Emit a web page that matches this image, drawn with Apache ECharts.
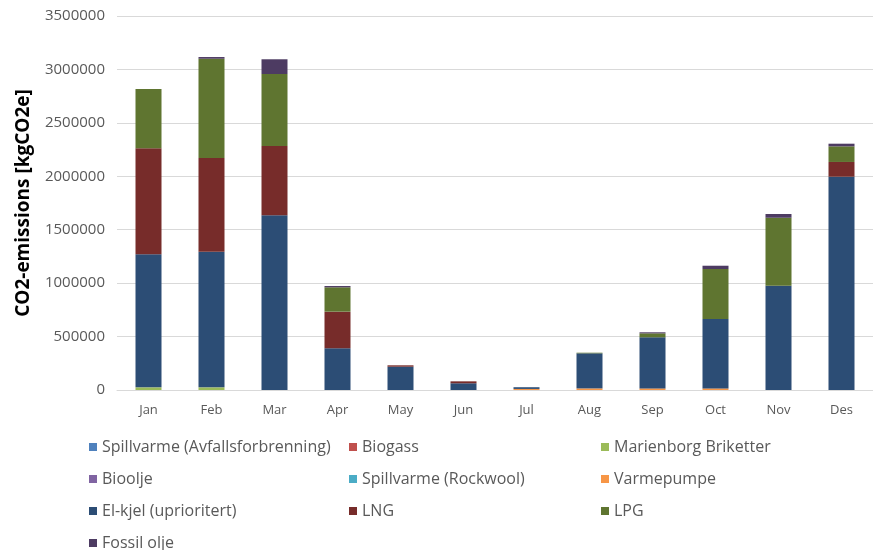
<!DOCTYPE html>
<html>
<head>
<meta charset="utf-8">
<script src="https://cdn.jsdelivr.net/npm/echarts@6/dist/echarts.min.js"></script>
<style>
  html, body { margin: 0; padding: 0; background: #ffffff; }
  #chart { width: 873px; height: 550px; }
</style>
</head>
<body>
<div id="chart"></div>
<script>
// Monthly CO2 emissions per energy source (kgCO2e)
const months = ['Jan', 'Feb', 'Mar', 'Apr', 'May', 'Jun', 'Jul', 'Aug', 'Sep', 'Oct', 'Nov', 'Des'];

const spillvarmeAvfall = [0, 0, 0, 0, 0, 0, 0, 0, 0, 0, 0, 0];
const biogass          = [0, 0, 0, 0, 0, 0, 0, 0, 0, 0, 0, 0];
const marienborg       = [25000, 25000, 0, 0, 0, 0, 0, 0, 0, 0, 0, 0];
const bioolje          = [0, 0, 0, 0, 0, 0, 0, 0, 0, 0, 0, 0];
const spillvarmeRock   = [0, 0, 0, 0, 0, 0, 0, 0, 0, 0, 0, 0];
const varmepumpe       = [0, 0, 0, 0, 0, 0, 10000, 15000, 15000, 15000, 0, 0];
const elkjel           = [1245000, 1269000, 1635000, 390000, 218000, 63000, 16000, 328000, 478000, 649000, 976000, 1996000];
const lng              = [992000, 877000, 648000, 343000, 13000, 18000, 0, 0, 0, 0, 0, 138000];
const lpg              = [555000, 929000, 674000, 228000, 0, 0, 0, 6000, 37000, 468000, 636000, 146000];
const fossilOlje       = [0, 16000, 138000, 12000, 0, 0, 0, 0, 10000, 31000, 35000, 25000];

const yTicks = { min: 0, max: 3500000, step: 500000 };

const seriesDefs = [
  ['Spillvarme (Avfallsforbrenning)', spillvarmeAvfall, '#4F81BD'],
  ['Biogass', biogass, '#C0504D'],
  ['Marienborg Briketter', marienborg, '#9BBB59'],
  ['Bioolje', bioolje, '#8064A2'],
  ['Spillvarme (Rockwool)', spillvarmeRock, '#4BACC6'],
  ['Varmepumpe', varmepumpe, '#F79646'],
  ['El-kjel (uprioritert)', elkjel, '#2C4D75'],
  ['LNG', lng, '#772C2A'],
  ['LPG', lpg, '#5F7530'],
  ['Fossil olje', fossilOlje, '#4D3B62']
];

const legendText = { fontFamily: 'Open Sans', fontSize: 16, color: '#595959', lineHeight: 16 };
function legendColumn(left, top, names) {
  return {
    orient: 'vertical', left: left, top: top, height: 200,
    icon: 'rect', itemWidth: 8, itemHeight: 8, itemGap: 16,
    textStyle: legendText, data: names, selectedMode: false
  };
}

const chart = echarts.init(document.getElementById('chart'), null, { renderer: 'canvas' });
chart.setOption({
  animation: false,
  backgroundColor: '#ffffff',
  grid: { left: 117, top: 16, width: 766, height: 374, containLabel: false },
  legend: [
    legendColumn(84, 434, ['Spillvarme (Avfallsforbrenning)', 'Bioolje', 'El-kjel (uprioritert)']),
    legendColumn(84, 530, ['Fossil olje']),
    legendColumn(344, 434, ['Biogass', 'Spillvarme (Rockwool)', 'LNG']),
    legendColumn(596, 434, ['Marienborg Briketter', 'Varmepumpe', 'LPG'])
  ],
  xAxis: {
    type: 'category',
    data: months,
    axisLine: { show: true, lineStyle: { color: '#d9d9d9', width: 1 } },
    axisTick: { show: false },
    axisLabel: { fontFamily: 'Open Sans', fontSize: 13, color: '#595959', margin: 14 }
  },
  yAxis: {
    type: 'value',
    min: yTicks.min, max: yTicks.max, interval: yTicks.step,
    name: 'CO2-emissions [kgCO2e]',
    nameLocation: 'middle',
    nameGap: 84,
    nameTextStyle: { fontFamily: 'Open Sans', fontWeight: 'bold', fontSize: 19, color: '#000000' },
    axisLine: { show: false },
    axisTick: { show: false },
    splitLine: { lineStyle: { color: '#d9d9d9', width: 1 } },
    axisLabel: {
      fontFamily: 'Open Sans', fontSize: 15, color: '#595959', margin: 12,
      formatter: v => String(v)
    }
  },
  series: seriesDefs.map(([name, data, color]) => ({
    name: name,
    type: 'bar',
    stack: 'total',
    data: data,
    barWidth: 26,
    itemStyle: { color: color },
    emphasis: { disabled: true }
  }))
});
</script>
</body>
</html>
